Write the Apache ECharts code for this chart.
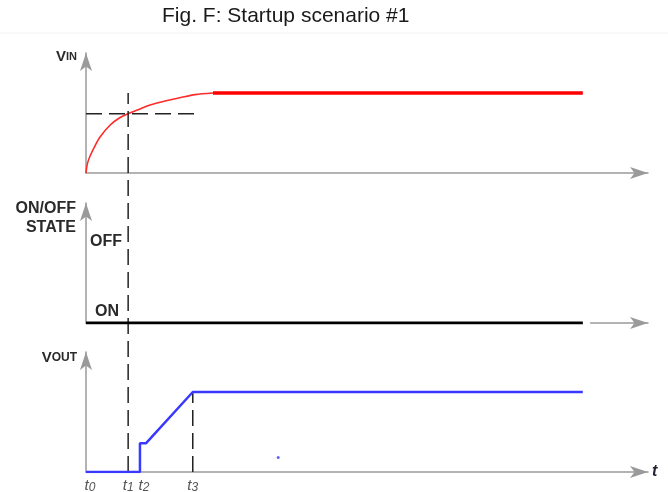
<!DOCTYPE html>
<html><head><meta charset="utf-8">
<script src="https://cdn.jsdelivr.net/npm/echarts@6/dist/echarts.min.js"></script>
<style>html,body{margin:0;padding:0;background:#fff}#c{width:668px;height:492px}</style>
</head><body><div id="c"></div>
<script>
// ---- data (time in arbitrary units 0..100, levels relative to final value 1.0) ----
const tMarks = [0, 7.5, 9.6, 19.0];          // t0, t1, t2, t3
const tLabels = ['0', '1', '2', '3'];
const vinCurve = [[0,0],[0.1,0.06],[0.3,0.13],[0.71,0.21],[1.6,0.34],[2.5,0.45],[4.3,0.6],[6.0,0.69],[7.5,0.74],[9.6,0.8],[11.4,0.85],[14.1,0.9],[16.7,0.94],[19.4,0.98],[22.6,1.0]];
const vinFlat = [[22.6,1.0],[88.4,1.0]];
const vinThreshold = [[0,0.74],[19.4,0.74]];
const stateLine = [[0,0],[88.4,0]];
const stateGap = [[88.4,0],[89.7,0]];
const voutLine = [[0,0],[9.6,0],[9.6,0.36],[10.7,0.36],[19.0,1.0],[88.4,1.0]];
const voutDot = [[34.2,0.18]];
const t3Line = [[19.0,0],[19.0,1.0]];
const t1Line = [[7.5,0],[7.5,1]];

const FONT = 'Liberation Sans, Arial, sans-serif';
const AX = '#9a9a9a';
const L = 86, R = 20, H = 120;

function xAx(gi, show) {
  return {
    gridIndex: gi, type: 'value', min: 0, max: 100, show: show,
    axisLine: { show: true, onZero: false, symbol: ['none', 'arrow'], symbolSize: [9, 18],
      lineStyle: { color: AX, width: 1.5 } },
    axisTick: { show: false }, axisLabel: { show: false }, splitLine: { show: false }
  };
}
function yAx(gi, show, max) {
  return {
    gridIndex: gi, type: 'value', min: 0, max: max, show: show,
    axisLine: { show: true, symbol: ['none', 'arrow'], symbolSize: [9, 18],
      lineStyle: { color: AX, width: 1.5 } },
    axisTick: { show: false }, axisLabel: { show: false }, splitLine: { show: false }
  };
}
function line(gi, data, color, width, dash, z, smooth) {
  return {
    type: 'line', xAxisIndex: gi, yAxisIndex: gi, data: data, showSymbol: false, silent: true,
    smooth: smooth || false,
    lineStyle: { color: color, width: width, type: dash || 'solid', cap: 'butt' }, z: z || 2
  };
}
const DASH = [16, 7];
const TXT = '#2a2a2a';

const chart = echarts.init(document.getElementById('c'), null, { renderer: 'canvas' });
chart.setOption({
  animation: false,
  backgroundColor: '#fff',
  title: {
    text: 'Fig. F: Startup scenario #1', left: 157, top: 1,
    textStyle: { fontFamily: FONT, fontSize: 21, fontWeight: 'normal', color: '#1a1a1a' }
  },
  grid: [
    { left: L, right: R, top: 53, height: H },
    { left: L, right: R, top: 203, height: H },
    { left: L, right: R, top: 352, height: H },
    { left: L, right: R, top: 93, height: 379 }
  ],
  xAxis: [xAx(0, true), xAx(1, true), xAx(2, true), xAx(3, false)],
  yAxis: [yAx(0, true, 1.5), yAx(1, true, 1.5), yAx(2, true, 1.5), yAx(3, false, 1)],
  series: [
    line(0, vinCurve, '#ff2a2a', 1.6, null, 2, 0.3),
    line(0, vinFlat, '#ff0000', 3.5),
    line(0, vinThreshold, '#222', 1.5, DASH),
    line(1, stateLine, '#000', 3, null, 3),
    line(1, stateGap, '#fff', 4, null, 2),
    line(2, voutLine, '#3a3aff', 2.5, null, 3),
    line(2, t3Line, '#222', 1.5, DASH),
    line(3, t1Line, '#222', 1.5, DASH),
    {
      type: 'scatter', xAxisIndex: 2, yAxisIndex: 2, data: voutDot, symbolSize: 3,
      itemStyle: { color: '#3a3aff' }, silent: true
    },
    {
      type: 'scatter', xAxisIndex: 2, yAxisIndex: 2, symbolSize: 0, silent: true,
      data: tMarks.map((t, i) => ({ value: [t, 0], name: tLabels[i],
        label: i === 0 ? { offset: [4, 0] } : (i === 2 ? { offset: [4, 0] } : {}) })),
      label: {
        show: true, position: 'bottom', distance: 6,
        formatter: p => '{t|t}{s|' + p.name + '}',
        rich: {
          t: { fontFamily: FONT, fontSize: 15, fontStyle: 'italic', color: TXT },
          s: { fontFamily: FONT, fontSize: 12, fontStyle: 'italic', color: TXT, padding: [4, 0, 0, 0] }
        }
      }
    }
  ],
  graphic: [
    { type: 'line', shape: { x1: 0, y1: 33, x2: 668, y2: 33 }, style: { stroke: '#f2f2f2', lineWidth: 1 }, silent: true },
    { type: 'text', x: 77, y: 57, style: { text: '{a|V}{b|IN}', align: 'right', verticalAlign: 'middle',
      rich: { a: { fontFamily: FONT, fontSize: 15, fontWeight: 'bold', fill: TXT },
              b: { fontFamily: FONT, fontSize: 11, fontWeight: 'bold', fill: TXT } } } },
    { type: 'text', x: 77, y: 358, style: { text: '{a|V}{b|OUT}', align: 'right', verticalAlign: 'middle',
      rich: { a: { fontFamily: FONT, fontSize: 15, fontWeight: 'bold', fill: TXT },
              b: { fontFamily: FONT, fontSize: 12, fontWeight: 'bold', fill: TXT } } } },
    { type: 'text', x: 76, y: 218, style: { text: 'ON/OFF\nSTATE', align: 'right', verticalAlign: 'middle',
      fontFamily: FONT, fontSize: 16, fontWeight: 'bold', fill: TXT, lineHeight: 19 } },
    { type: 'text', x: 90, y: 242, style: { text: 'OFF', align: 'left', verticalAlign: 'middle',
      fontFamily: FONT, fontSize: 16, fontWeight: 'bold', fill: TXT } },
    { type: 'text', x: 95, y: 312, style: { text: 'ON', align: 'left', verticalAlign: 'middle',
      fontFamily: FONT, fontSize: 16, fontWeight: 'bold', fill: TXT } },
    { type: 'text', x: 652, y: 472, style: { text: 't', align: 'left', verticalAlign: 'middle',
      fontFamily: FONT, fontSize: 16, fontStyle: 'italic', fontWeight: 'bold', fill: '#223' } }
  ]
});
</script></body></html>
